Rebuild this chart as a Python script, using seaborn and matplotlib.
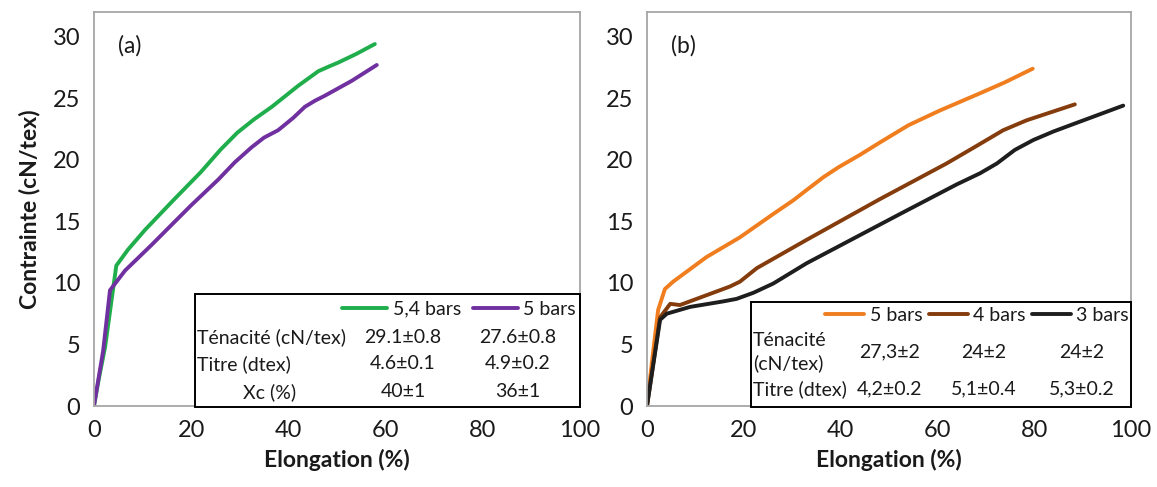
import numpy as np
import pandas as pd
import seaborn as sns
import matplotlib.pyplot as plt
from matplotlib.patches import Rectangle

# ----------------------------------
# Data
# ----------------------------------
# (a) 5,4 bars / 5 bars
elong_a_54 = [0, 1, 2.3, 4.6, 7.0, 10.5, 16.3, 22, 26, 29.5, 33, 36.6, 42, 46.2, 48.5, 50.3, 54, 57.8]
stress_a_54 = [0, 2.2, 4.8, 11.4, 12.7, 14.3, 16.7, 19.0, 20.8, 22.2, 23.3, 24.3, 26.0, 27.2, 27.6, 27.9, 28.6, 29.4]
elong_a_5 = [0, 1.9, 3.3, 6.4, 11.9, 16.7, 20, 25.6, 29, 32.4, 35, 37.9, 41, 43.4, 45.5, 47.5, 53, 58.2]
stress_a_5 = [0, 4.5, 9.4, 11.0, 13.1, 15.0, 16.3, 18.4, 19.8, 21.0, 21.8, 22.4, 23.4, 24.3, 24.8, 25.2, 26.4, 27.7]

# (b) 5 bars / 4 bars / 3 bars
elong_b_5 = [0, 1, 2.3, 3.7, 5.4, 12.3, 19.2, 26.1, 30.2, 33.5, 36.5, 39.6, 44, 48.1, 54, 60.5, 68.8, 74, 79.7]
stress_b_5 = [0, 3.5, 7.8, 9.5, 10.1, 12.1, 13.7, 15.6, 16.7, 17.7, 18.6, 19.4, 20.4, 21.4, 22.8, 24.0, 25.4, 26.3, 27.4]
elong_b_4 = [0, 2.7, 4.8, 6.8, 12.3, 17.1, 19.2, 22.7, 33, 48.1, 61.9, 68, 73.6, 78.4, 83, 88.4]
stress_b_4 = [0, 7.2, 8.3, 8.2, 9.0, 9.7, 10.1, 11.2, 13.5, 16.8, 19.7, 21.1, 22.4, 23.2, 23.8, 24.5]
elong_b_3 = [0, 2.7, 4.1, 8.9, 15.8, 18.5, 22, 26.1, 33, 52.3, 64, 68.8, 72.3, 76, 79.8, 84, 88.1, 98.4]
stress_b_3 = [0, 7.0, 7.5, 8.05, 8.5, 8.7, 9.2, 9.95, 11.6, 15.6, 18.0, 18.9, 19.7, 20.8, 21.6, 22.3, 22.9, 24.4]

labels_a = ["5,4 bars", "5 bars"]
labels_b = ["5 bars", "4 bars", "3 bars"]

rows_a = ["Ténacité (cN/tex)", "Titre (dtex)", "Xc (%)"]
vals_a = [["29.1±0.8", "27.6±0.8"], ["4.6±0.1", "4.9±0.2"], ["40±1", "36±1"]]
rows_b = ["Ténacité\n(cN/tex)", "Titre (dtex)"]
vals_b = [["27,3±2", "24±2", "24±2"], ["4,2±0.2", "5,1±0.4", "5,3±0.2"]]

colors_a = ["#1fae4b", "#7030a0"]
colors_b = ["#f07d1e", "#843c0c", "#1e1e1e"]

# long-form tables for seaborn
df_a = pd.concat([
    pd.DataFrame({"Elongation": elong_a_54, "Contrainte": stress_a_54, "serie": labels_a[0]}),
    pd.DataFrame({"Elongation": elong_a_5, "Contrainte": stress_a_5, "serie": labels_a[1]}),
])
df_b = pd.concat([
    pd.DataFrame({"Elongation": elong_b_5, "Contrainte": stress_b_5, "serie": labels_b[0]}),
    pd.DataFrame({"Elongation": elong_b_4, "Contrainte": stress_b_4, "serie": labels_b[1]}),
    pd.DataFrame({"Elongation": elong_b_3, "Contrainte": stress_b_3, "serie": labels_b[2]}),
])

# ----------------------------------
# Style
# ----------------------------------
sns.set_style("white")
plt.rcParams['font.family'] = ['Lato', 'DejaVu Sans']
text_col = "#1a1a1a"
frame_col = "#a6a6a6"

fig = plt.figure(figsize=(11.57, 4.87), dpi=100)
ax_a = fig.add_axes([0.0812, 0.1663, 0.4200, 0.809])
ax_b = fig.add_axes([0.5592, 0.1663, 0.4183, 0.809])

sns.lineplot(data=df_a, x="Elongation", y="Contrainte", hue="serie", palette=colors_a,
             estimator=None, sort=False, linewidth=2.8, ax=ax_a)
sns.lineplot(data=df_b, x="Elongation", y="Contrainte", hue="serie", palette=colors_b,
             estimator=None, sort=False, linewidth=2.8, ax=ax_b)

for ax in (ax_a, ax_b):
    ax.set_xlim(0, 100)
    ax.set_ylim(0, 32)
    ax.set_xticks(np.arange(0, 101, 20))
    ax.set_yticks(np.arange(0, 31, 5))
    for s in ax.spines.values():
        s.set_color(frame_col)
        s.set_linewidth(1.3)
    ax.tick_params(axis="both", direction="out", length=6, width=1.1, color=frame_col,
                   labelsize=17, labelcolor=text_col, pad=4)
    ax.set_xlabel("Elongation (%)", fontsize=16.5, fontweight="bold", color=text_col, labelpad=6)
    ax.set_ylabel("")
    ax.get_legend().remove()

ax_a.set_ylabel("Contrainte (cN/tex)", fontsize=16.5, fontweight="bold", color=text_col, labelpad=9)
ax_a.text(0.05, 0.915, "(a)", transform=ax_a.transAxes, fontsize=16.5, color=text_col, va="center")
ax_b.text(0.05, 0.915, "(b)", transform=ax_b.transAxes, fontsize=16.5, color=text_col, va="center")

fs = 14

# ----------------------------------
# Table (a)
# ----------------------------------
ax_a.add_patch(Rectangle((0.208, -0.003), 0.792, 0.287, transform=ax_a.transAxes,
                         facecolor="white", edgecolor="black", linewidth=1.4, zorder=5,
                         clip_on=False))
h_a, _ = ax_a.get_legend_handles_labels()
leg = ax_a.legend(h_a, labels_a, loc="center right", bbox_to_anchor=(1.0, 0.246),
                  ncol=2, frameon=False, fontsize=fs, handlelength=2.3,
                  handletextpad=0.3, columnspacing=0.6, borderpad=0, borderaxespad=0.2)
leg.set_zorder(6)
for t in leg.get_texts():
    t.set_color(text_col)
row_y_a = [0.175, 0.107, 0.036]
col_x_a = [0.636, 0.872]
for r, (lab, vals) in enumerate(zip(rows_a, vals_a)):
    if lab.startswith("Xc"):
        ax_a.text(0.362, row_y_a[r], lab, transform=ax_a.transAxes, ha="center", va="center",
                  fontsize=fs, color=text_col, zorder=7)
    else:
        ax_a.text(0.212, row_y_a[r], lab, transform=ax_a.transAxes, ha="left", va="center",
                  fontsize=fs, color=text_col, zorder=7)
    for c, v in enumerate(vals):
        ax_a.text(col_x_a[c], row_y_a[r], v, transform=ax_a.transAxes, ha="center",
                  va="center", fontsize=fs, color=text_col, zorder=7)

# ----------------------------------
# Table (b)
# ----------------------------------
ax_b.add_patch(Rectangle((0.215, -0.003), 0.785, 0.267, transform=ax_b.transAxes,
                         facecolor="white", edgecolor="black", linewidth=1.4, zorder=5,
                         clip_on=False))
h_b, _ = ax_b.get_legend_handles_labels()
leg = ax_b.legend(h_b, labels_b, loc="center right", bbox_to_anchor=(1.0, 0.231),
                  ncol=3, frameon=False, fontsize=fs, handlelength=2.0,
                  handletextpad=0.3, columnspacing=0.3, borderpad=0, borderaxespad=0.1)
leg.set_zorder(6)
for t in leg.get_texts():
    t.set_color(text_col)
row_y_b = [0.137, 0.043]
col_x_b = [0.502, 0.696, 0.899]
for r, (lab, vals) in enumerate(zip(rows_b, vals_b)):
    ax_b.text(0.219, row_y_b[r], lab, transform=ax_b.transAxes, ha="left", va="center",
              fontsize=fs, color=text_col, zorder=7, linespacing=1.3)
    for c, v in enumerate(vals):
        ax_b.text(col_x_b[c], row_y_b[r], v, transform=ax_b.transAxes, ha="center",
                  va="center", fontsize=fs, color=text_col, zorder=7)

plt.savefig("out.png", dpi=100)
